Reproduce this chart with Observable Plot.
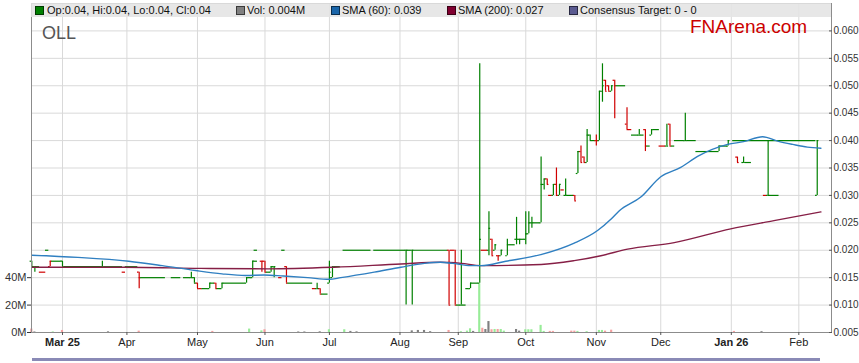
<!DOCTYPE html>
<html><head><meta charset="utf-8">
<script src="https://cdn.jsdelivr.net/npm/d3@7"></script>
<script src="https://cdn.jsdelivr.net/npm/@observablehq/plot@0.6"></script>
<style>
body{margin:0;background:#fff;font-family:"Liberation Sans",Arial,sans-serif;}
#wrap{position:relative;width:859px;height:363px;overflow:hidden;}
.ov{position:absolute;white-space:nowrap;}
#band{left:31px;top:3px;width:800px;height:14px;background:rgba(228,228,228,0.88);}
.lg{font-size:11px;line-height:14px;top:3px;color:#111;}
.sq{top:6px;width:7px;height:7px;border:1px solid rgba(0,0,0,0.55);}
#ticker{left:42px;top:24px;font-size:18px;line-height:18px;color:#555;}
#brand{left:690px;top:17px;font-size:19px;line-height:19px;color:#cc0000;}
#nav{left:32px;top:358px;width:788px;height:3px;background:#8a8ab6;}
</style></head><body><div id="wrap"></div><script>
// x positions are weekday indexes counted from Mon 17 Feb 2025
const tickIdx = [10, 31, 54, 76, 97, 120, 139, 161, 184, 205, 228, 250];
const tickLabels = ["Mar 25", "Apr", "May", "Jun", "Jul", "Aug", "Sep", "Oct", "Nov", "Dec", "Jan 26", "Feb"];
const boldLabels = ["Mar 25", "Jan 26"];
const priceTicks = [0.005, 0.010, 0.015, 0.020, 0.025, 0.030, 0.035, 0.040, 0.045, 0.050, 0.055, 0.060];
const volTickPos = [0.005, 0.010, 0.015];
const volTickLabels = ["0M", "20M", "40M"];

// OHLC bars: [day, open, high, low, close] in tenths of a cent, direction u/d
const ohlcBars = [
  [0,18,18,17,17,"u"],[1,17,17,16,17,"u"],[6,17,18,17,18,"d"],[10,18,18,17,17,"u"],
  [23,17,18,17,17,"u"],[35,16,16,13,15,"d"],[52,15,16,15,15,"u"],[53,15,15,14,14,"u"],
  [54,14,14,13,13,"d"],[58,13,14,13,14,"u"],[60,14,14,13,13,"d"],[62,13,14,13,14,"u"],
  [70,14,15,14,15,"u"],[72,15,18,15,18,"u"],[75,18,18,16,18,"d"],[76,18,18,16,16,"d"],
  [78,16,17,16,17,"u"],[79,17,17,15,17,"u"],[83,17,17,14,14,"d"],[93,13,14,13,13,"u"],
  [94,13,13,12,12,"d"],[97,14,18,14,16,"u"],[98,15,17,15,17,"u"],[122,20,20,10,20,"u"],
  [124,20,20,10,20,"u"],[136,20,20,10,10,"d"],[138,20,20,10,10,"d"],[140,10,20,10,10,"u"],
  [143,13,14,13,14,"u"],[146,14,54,14,22,"u"],[149,20,27,19,24,"u"],[150,22,22,19,19,"d"],
  [151,20,21,20,21,"u"],[152,19,19,18,19,"d"],[153,19,20,19,20,"u"],[155,19,22,19,21,"u"],
  [158,22,26,21,22,"u"],[159,22,22,21,22,"u"],[161,22,27,21,23,"u"],[162,23,27,23,25,"u"],
  [163,25,26,24,25,"u"],[166,25,37,25,32,"u"],[167,32,33,31,33,"u"],[168,33,33,32,32,"d"],
  [170,30,32,30,32,"u"],[171,32,35,30,30,"d"],[172,30,32,30,32,"u"],[174,30,33,30,30,"u"],
  [177,30,30,29,29,"d"],[178,34,38,34,38,"u"],[179,38,39,36,36,"d"],[180,37,37,36,36,"d"],
  [181,36,42,36,41,"u"],[182,41,41,40,40,"u"],[184,40,41,39,40,"d"],[185,40,49,40,49,"u"],
  [186,49,54,47,50,"u"],[187,51,51,49,49,"d"],[188,50,50,49,49,"d"],[189,49,50,49,50,"u"],
  [190,51,51,44,50,"d"],[194,43,46,42,42,"d"],[198,41,42,41,41,"u"],[200,42,42,38,39,"d"],
  [202,41,42,41,42,"u"],[207,39,43,39,39,"u"],[208,43,43,39,39,"d"],[213,40,45,40,40,"u"],
  [224,38,39,38,39,"u"],[227,39,40,39,40,"u"],[230,37,37,36,36,"d"],[232,36,37,36,36,"u"],
  [240,30,40,30,30,"u"],[256,30,40,30,40,"u"]
];
// unchanged (flat) stretches: [first day, last day, price in tenths of a cent, direction]
const flatRuns = [
  [2,2,17,"u"],[3,4,16,"d"],[5,5,20,"u"],[7,9,18,"u"],[11,22,17,"u"],[24,29,17,"u"],
  [30,30,16,"d"],[31,34,17,"u"],[36,43,15,"u"],[46,48,15,"u"],[50,51,15,"u"],
  [55,55,13,"d"],[56,57,13,"u"],[59,59,14,"u"],[61,61,13,"u"],[63,69,14,"u"],
  [71,71,15,"u"],[73,73,18,"u"],[73,73,20,"u"],[77,77,16,"u"],[81,81,15,"d"],[82,82,20,"u"],
  [84,91,14,"u"],[92,92,13,"d"],[95,96,12,"u"],[99,100,17,"u"],[102,110,20,"u"],
  [112,121,20,"u"],[123,123,20,"u"],[125,135,20,"u"],[137,137,20,"d"],[139,139,10,"u"],
  [141,141,10,"u"],[142,142,13,"u"],[144,145,14,"u"],[147,148,20,"d"],[156,157,21,"u"],
  [160,160,22,"u"],[164,165,25,"u"],[169,169,30,"d"],[173,173,31,"d"],[175,176,30,"u"],
  [183,183,40,"u"],[191,193,50,"u"],[195,195,42,"d"],[196,197,41,"u"],[199,199,41,"u"],
  [201,201,39,"u"],[203,204,42,"u"],[205,206,39,"d"],[209,209,39,"u"],[210,212,40,"u"],
  [214,216,40,"u"],[217,223,38,"u"],[225,226,39,"u"],[229,255,40,"u"],[233,234,36,"u"],
  [239,239,30,"d"],[241,243,30,"u"]
];
// volume: [day, millions of shares, kind]
const volume = [
  [0,2.5,"d"],[1,0.4,"n"],[7,0.4,"u"],[10,1.5,"d"],[25,0.5,"n"],[35,1,"d"],[59,0.8,"d"],
  [71,2.5,"u"],[75,1.2,"u"],[76,2,"d"],[87,0.4,"n"],[89,0.4,"n"],[94,0.5,"n"],[97,2,"u"],
  [102,2,"u"],[104,0.8,"n"],[106,0.5,"n"],[124,1.2,"n"],[126,1.5,"n"],[128,1.5,"n"],
  [130,0.6,"n"],[136,1.5,"d"],[140,0.6,"u"],[142,1,"u"],[143,2.7,"u"],[144,0.8,"n"],
  [146,35.5,"u"],[147,3.1,"d"],[148,2.2,"n"],[149,8,"n"],[150,2,"d"],[151,2.2,"u"],
  [152,2.2,"d"],[153,2.2,"u"],[154,1,"u"],[158,2.2,"n"],[159,1,"n"],[161,2,"u"],
  [162,2,"u"],[163,2,"u"],[166,5.2,"u"],[167,0.8,"u"],[169,0.8,"d"],[170,0.8,"d"],
  [176,1,"d"],[177,1,"d"],[178,0.8,"u"],[181,0.6,"u"],[185,1.5,"u"],[186,1.5,"u"],
  [187,1,"d"],[189,1.7,"d"],[229,0.8,"d"],[238,0.6,"n"]
];
const sma60 = [
  [0,0.0191],[15,0.0187],[31.6,0.0180],[42.5,0.0172],[53.4,0.0163],[62,0.0157],[69.7,0.0154],
  [75.7,0.0155],[82,0.0153],[89.9,0.0150],[96.9,0.0147],[100.7,0.0150],[111.6,0.0160],
  [120.3,0.0169],[128,0.0176],[133.3,0.0178],[137.1,0.0176],[143.1,0.0172],[146.4,0.0172],
  [154.5,0.0180],[165.9,0.0192],[176.8,0.0213],[184.4,0.0236],[189,0.0258],[191.5,0.0272],
  [198.5,0.0297],[205,0.0334],[211.5,0.0351],[217,0.0371],[226.8,0.0393],[232,0.0398],
  [238.2,0.0407],[243.1,0.0399],[248,0.0393],[252.8,0.0388],[257.2,0.0386]
];
const sma200 = [
  [0,0.0169],[30,0.0169],[55,0.0167],[77,0.0166],[98.5,0.0169],[120.3,0.0175],[133,0.0178],
  [140,0.0176],[146.4,0.0172],[166,0.0174],[176.8,0.0181],[185.5,0.0190],[194.2,0.0202],
  [209.4,0.0214],[227.8,0.0239],[241.9,0.0254],[257.2,0.0270]
];

const up = "#008000", down = "#d00000";
const volFill = {u: "#98ec98", d: "#f4a0a0", n: "#808080"};
const bars = ohlcBars.map(([i,o,h,l,c,d]) => ({i, o:o/1000, h:h/1000, l:l/1000, c:c/1000, col: d==="u"?up:down}));
const runs = flatRuns.map(([a,b,u,d]) => ({a, b, p:u/1000, col: d==="u"?up:down}));
const vols = volume.map(([i,v,k]) => ({i, v, col: volFill[k]}));
const volBase = volTickPos[0], volPerM = (volTickPos[1]-volTickPos[0]) / 20;
const xLabel = new Map(tickIdx.map((t,k) => [t, tickLabels[k]]));
const vLabel = new Map(volTickPos.map((t,k) => [t, volTickLabels[k]]));

const plot = Plot.plot({
  width: 859, height: 363,
  marginTop: 3, marginBottom: 31, marginLeft: 31, marginRight: 28,
  x: {domain: [-0.1, 260.65], label: null},
  y: {domain: [0.005, 0.065], label: null},
  color: {type: "identity"},
  style: {fontFamily: "Liberation Sans, Arial, sans-serif", fontSize: "11px", background: "#fff", color: "#222"},
  marks: [
    Plot.gridX(tickIdx, {stroke: "#d9d9d9", strokeOpacity: 1}),
    Plot.gridY(priceTicks.slice(1), {stroke: "#d9d9d9", strokeOpacity: 1}),
    Plot.rect(vols, {x1: d => d.i - 0.35, x2: d => d.i + 0.35, y1: d => volBase, y2: d => volBase + d.v * volPerM, fill: "col"}),
    Plot.ruleX(bars, {x: "i", y1: "l", y2: "h", stroke: "col", strokeWidth: 1.2}),
    Plot.ruleY(bars, {y: "o", x1: d => d.i - 0.55, x2: "i", stroke: "col", strokeWidth: 1.2}),
    Plot.ruleY(bars, {y: "c", x1: "i", x2: d => d.i + 0.55, stroke: "col", strokeWidth: 1.2}),
    Plot.ruleY(runs, {y: "p", x1: d => d.a - 0.55, x2: d => d.b + 0.55, stroke: "col", strokeWidth: 1.2}),
    Plot.line(sma200, {x: d => d[0], y: d => d[1], stroke: "#861f46", strokeWidth: 1.4, curve: "monotone-x"}),
    Plot.line(sma60, {x: d => d[0], y: d => d[1], stroke: "#2f7fc1", strokeWidth: 1.4, curve: "monotone-x"}),
    Plot.frame({stroke: "#8c8c8c"}),
    Plot.axisY(priceTicks, {anchor: "right", tickFormat: d => d.toFixed(3), tickSize: -3, tickPadding: 5, fontSize: 10, stroke: "#555", fill: "#333", label: null}),
    Plot.axisY(volTickPos, {anchor: "left", tickFormat: d => vLabel.get(d), tickSize: 4, tickPadding: 1, stroke: "#333", fill: "#333", label: null}),
    Plot.axisX(tickIdx, {tickFormat: d => xLabel.get(d), tickSize: 3, tickPadding: 3, stroke: "#555", fill: "#222", label: null})
  ]
});
d3.select(plot).selectAll("text").filter(function(){ return boldLabels.includes(this.textContent); }).attr("font-weight", "bold");

const wrap = document.getElementById("wrap");
wrap.appendChild(plot);
const legendItems = [
  {sq: 35, tx: 47, color: "#008000", text: "Op:0.04, Hi:0.04, Lo:0.04, Cl:0.04"},
  {sq: 236, tx: 247, color: "#808080", text: "Vol: 0.004M"},
  {sq: 331, tx: 342, color: "#1a66aa", text: "SMA (60): 0.039"},
  {sq: 447, tx: 458, color: "#800030", text: "SMA (200): 0.027"},
  {sq: 569, tx: 580, color: "#5a5a90", text: "Consensus Target: 0 - 0"}
];
const add = (cls, id, css, text) => { const e = document.createElement("div"); e.className = "ov " + cls; if (id) e.id = id; Object.assign(e.style, css || {}); if (text) e.textContent = text; wrap.appendChild(e); return e; };
add("", "band");
for (const it of legendItems) {
  add("sq", null, {left: it.sq + "px", background: it.color});
  add("lg", null, {left: it.tx + "px"}, it.text);
}
add("", "ticker", null, "OLL");
add("", "brand", null, "FNArena.com");
add("", "nav");
</script></body></html>
